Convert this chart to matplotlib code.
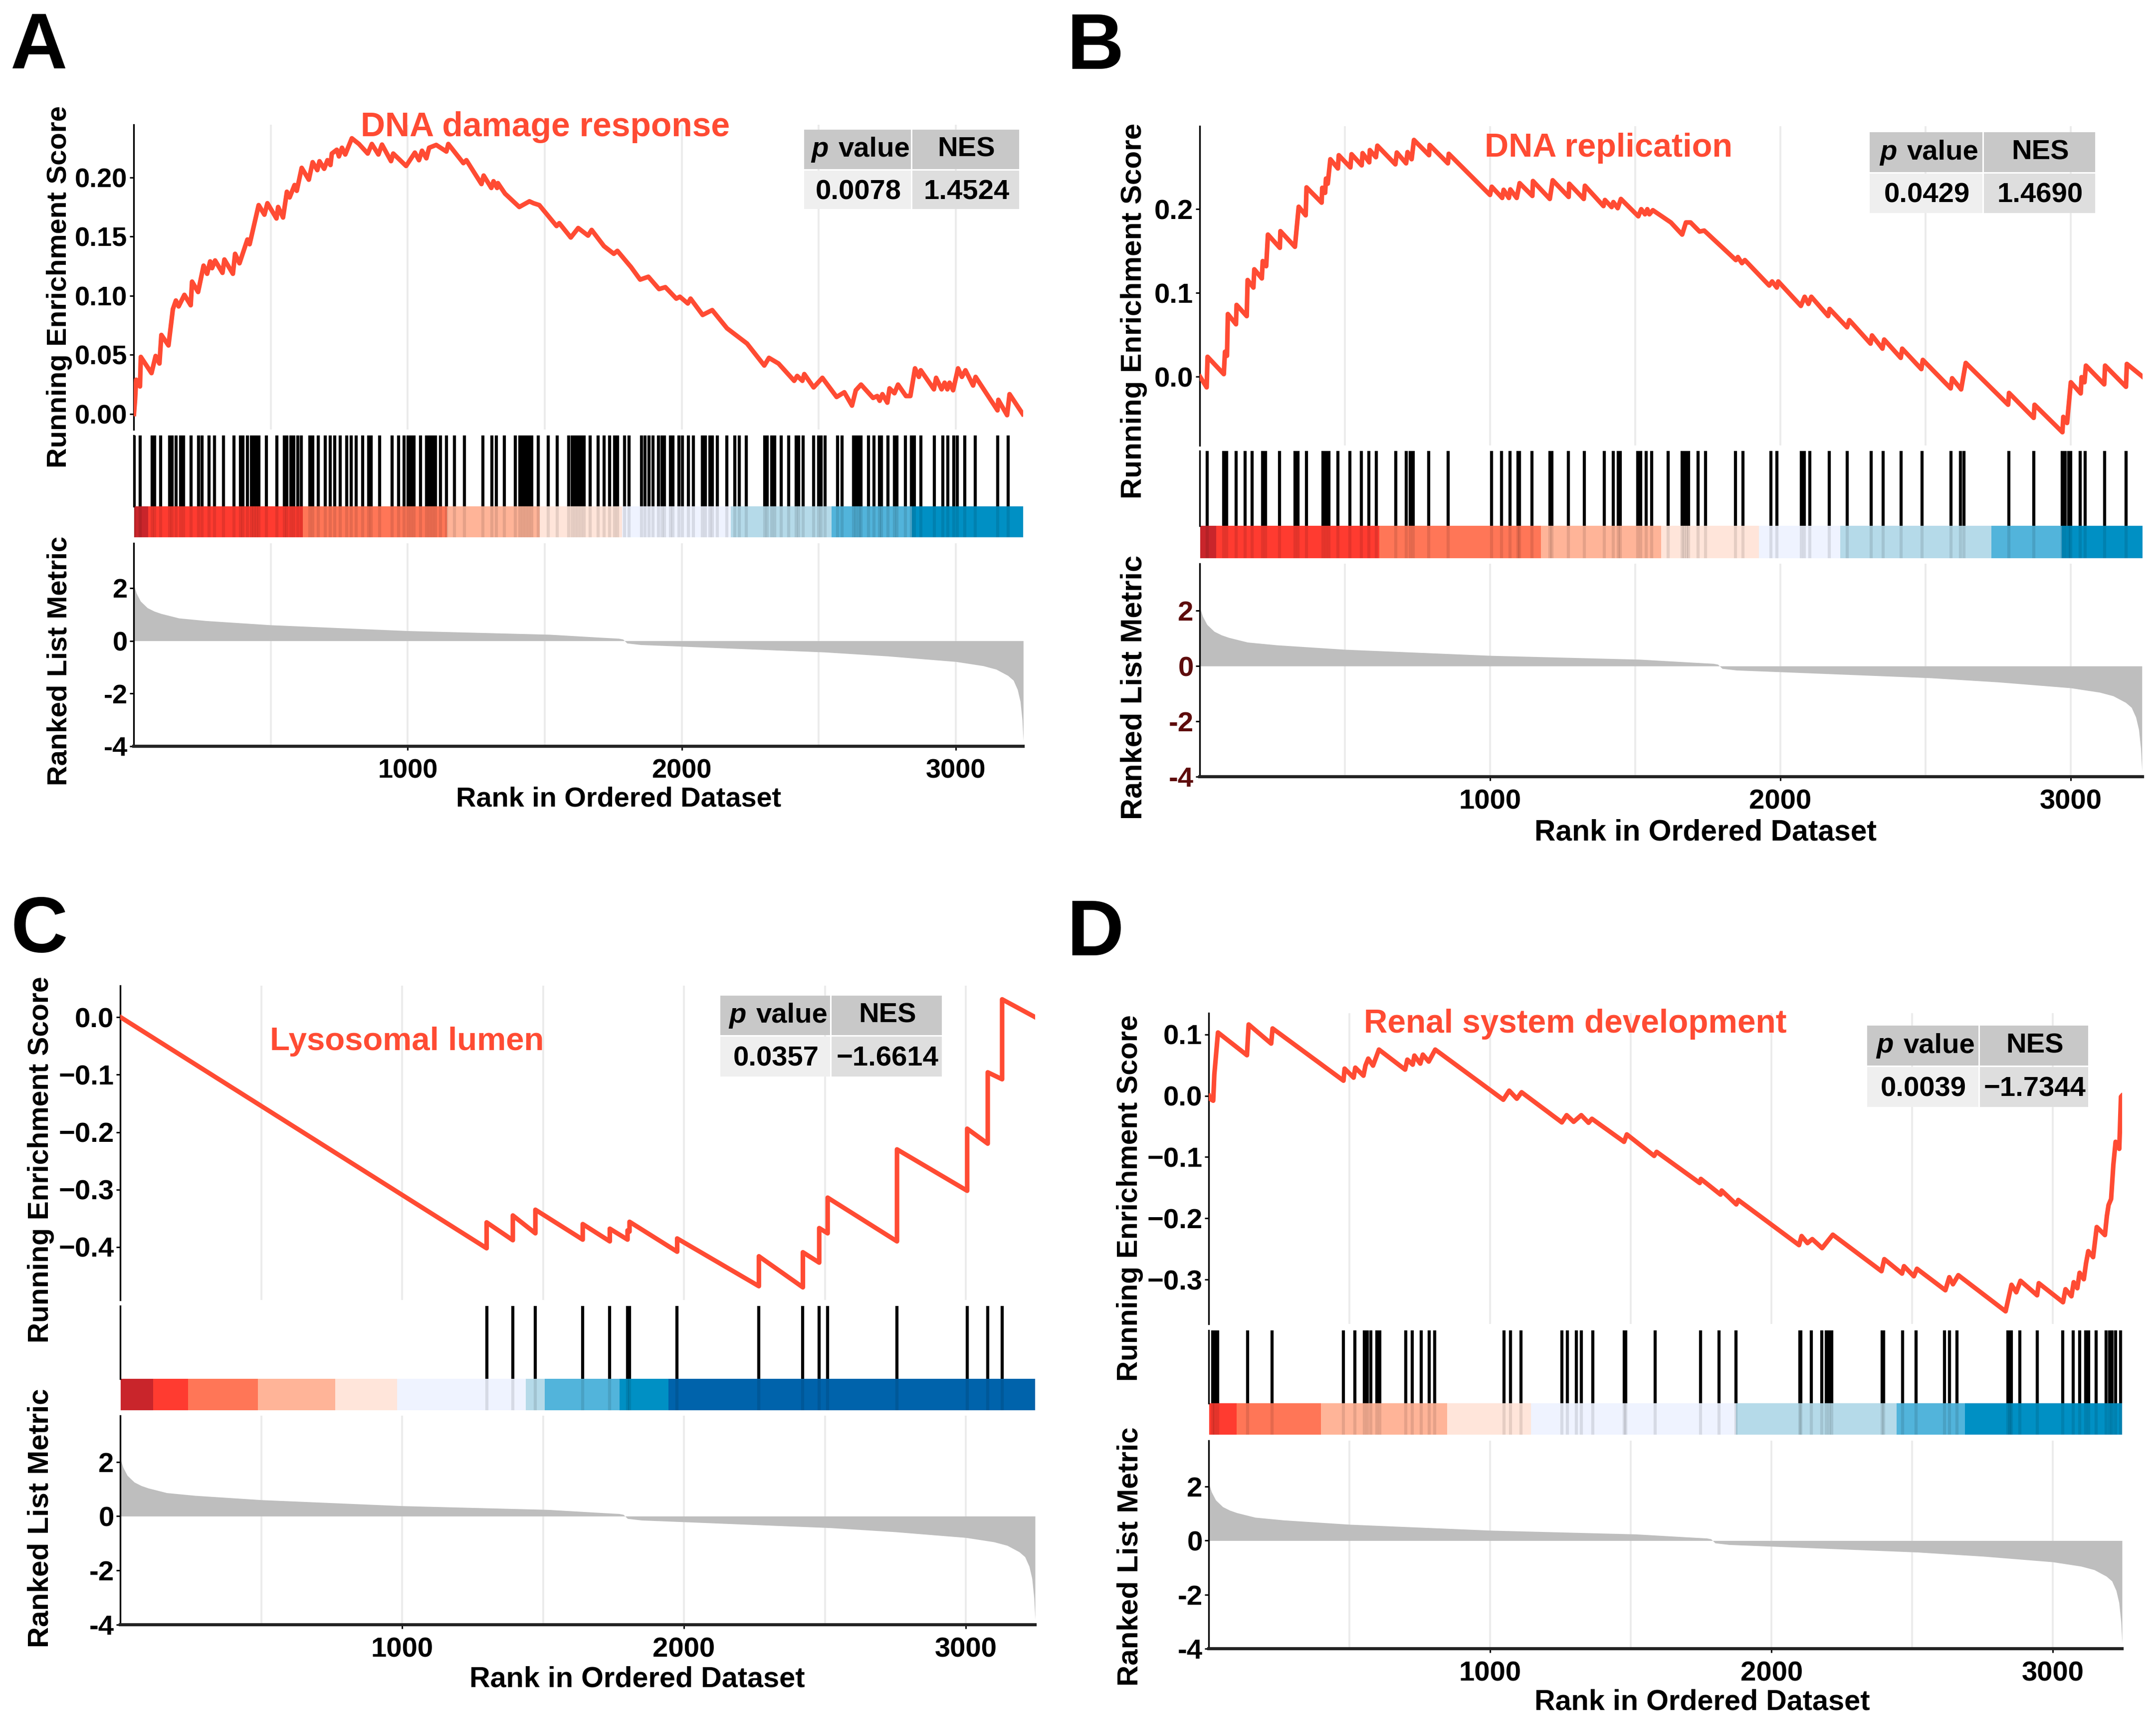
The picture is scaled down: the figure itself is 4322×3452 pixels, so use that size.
import matplotlib
matplotlib.use("Agg")
import matplotlib.pyplot as plt
from matplotlib.patches import Rectangle

plt.rcParams['font.family'] = ['Liberation Sans', 'DejaVu Sans']
plt.rcParams['font.weight'] = 'bold'

W, H = 4322, 3452

# ranked list metric, same gene list in all four panels
rm_rank = [1, 10, 25, 50, 75, 100, 165, 265, 500, 1000, 1518, 1700, 1770,
           1785, 1800, 1850, 2020, 2521, 2750, 3000, 3100, 3147, 3190, 3210, 3225, 3235, 3242, 3246]
rm_val = [2.1, 1.8, 1.5, 1.25, 1.12, 1.03, 0.86, 0.76, 0.6, 0.38, 0.24, 0.13, 0.09,
          0.06, -0.09, -0.15, -0.22, -0.43, -0.58, -0.79, -0.95, -1.08, -1.32, -1.5, -1.85, -2.3, -3.0, -3.8]

# running enrichment score, panel A
es_a_rank = [1, 5, 9, 23, 26, 65, 80, 94, 101, 127, 143, 154, 164, 185, 208, 213, 235, 255, 268, 279, 286, 297, 324,
             331, 362, 370, 386, 415, 423, 456, 477, 488, 521, 527, 545, 559, 569, 587, 595, 613, 639, 653, 670, 678,
             695, 707, 718, 723, 741, 749, 760, 772, 796, 822, 854, 869, 893, 906, 939, 947, 994, 1026, 1041, 1052,
             1068, 1078, 1104, 1141, 1148, 1203, 1214, 1269, 1277, 1305, 1313, 1326, 1329, 1355, 1407, 1444, 1459,
             1480, 1543, 1553, 1595, 1622, 1658, 1671, 1716, 1752, 1765, 1815, 1848, 1878, 1917, 1940, 1980, 1993,
             2022, 2032, 2076, 2111, 2165, 2238, 2301, 2318, 2353, 2410, 2421, 2440, 2447, 2481, 2513, 2565, 2593,
             2621, 2635, 2654, 2698, 2713, 2722, 2732, 2750, 2758, 2776, 2789, 2818, 2834, 2851, 2865, 2872, 2920,
             2928, 2948, 2959, 2969, 2977, 2990, 3008, 3022, 3035, 3063, 3072, 3152, 3155, 3187, 3196, 3244]
es_a_val = [0.0, 0.012, 0.029, 0.0233, 0.0483, 0.0346, 0.0491, 0.0427, 0.0669, 0.058, 0.0887, 0.096, 0.091, 0.1008,
            0.092, 0.112, 0.1032, 0.1255, 0.1186, 0.1291, 0.1234, 0.1299, 0.1194, 0.1307, 0.1186, 0.1355, 0.1275,
            0.1476, 0.1436, 0.1767, 0.1686, 0.1783, 0.1654, 0.1751, 0.1662, 0.188, 0.1832, 0.1937, 0.1888, 0.2082,
            0.1982, 0.213, 0.2063, 0.2138, 0.2074, 0.2147, 0.2106, 0.2203, 0.2235, 0.2179, 0.2252, 0.2195, 0.2332,
            0.2284, 0.2203, 0.2284, 0.2195, 0.2279, 0.2139, 0.2203, 0.2098, 0.2211, 0.2147, 0.2227, 0.2163, 0.2252,
            0.2276, 0.222, 0.2284, 0.2122, 0.2147, 0.1945, 0.2017, 0.1912, 0.1969, 0.1912, 0.1953, 0.1864, 0.1751,
            0.1799, 0.1783, 0.1767, 0.159, 0.1614, 0.1493, 0.1573, 0.1509, 0.1557, 0.142, 0.1355, 0.138, 0.1242,
            0.1137, 0.1161, 0.1057, 0.1073, 0.0976, 0.0992, 0.0935, 0.0976, 0.0838, 0.0879, 0.0725, 0.0596, 0.041,
            0.0475, 0.0427, 0.0281, 0.0322, 0.0281, 0.0338, 0.0225, 0.0306, 0.0144, 0.0184, 0.0071, 0.0201, 0.0249,
            0.0136, 0.0152, 0.0112, 0.0168, 0.0096, 0.0217, 0.0176, 0.0249, 0.0152, 0.0152, 0.0386, 0.0314, 0.037,
            0.0209, 0.0306, 0.0209, 0.0265, 0.0209, 0.0265, 0.0201, 0.0386, 0.0314, 0.037, 0.0241, 0.0314, 0.0031,
            0.012, -0.001, 0.0168, 0.0]

# panel B
es_b_rank = [1, 24, 27, 83, 87, 94, 97, 125, 127, 162, 165, 185, 188, 214, 217, 229, 235, 276, 278, 328, 341, 365, 368,
             420, 422, 432, 435, 441, 450, 476, 479, 519, 523, 558, 561, 584, 586, 607, 612, 674, 679, 711, 716, 730,
             738, 790, 792, 855, 858, 1000, 1006, 1042, 1047, 1065, 1070, 1092, 1102, 1146, 1148, 1206, 1216, 1271,
             1273, 1323, 1327, 1391, 1396, 1419, 1425, 1440, 1451, 1511, 1521, 1534, 1542, 1549, 1561, 1623, 1662,
             1675, 1691, 1722, 1738, 1847, 1854, 1868, 1878, 1962, 1972, 1988, 1993, 2071, 2084, 2097, 2107, 2165,
             2170, 2230, 2238, 2311, 2316, 2352, 2358, 2415, 2420, 2486, 2491, 2587, 2592, 2623, 2639, 2785, 2788,
             2873, 2876, 2972, 2975, 2988, 3001, 3035, 3038, 3048, 3053, 3116, 3119, 3191, 3194, 3248]
es_b_val = [0.0, -0.0128, 0.0237, 0.003, 0.0297, 0.0249, 0.0747, 0.0625, 0.0856, 0.0722, 0.1153, 0.1063, 0.1281, 0.1172,
            0.1379, 0.1318, 0.1695, 0.1537, 0.1736, 0.1549, 0.2027, 0.1925, 0.2258, 0.2076, 0.2253, 0.2193, 0.2363,
            0.2302, 0.2594, 0.2484, 0.2642, 0.2496, 0.2654, 0.2521, 0.2667, 0.2557, 0.2703, 0.2618, 0.2756, 0.2533,
            0.2674, 0.2545, 0.2679, 0.2594, 0.2824, 0.2642, 0.2764, 0.2545, 0.2659, 0.2168, 0.2266, 0.2132, 0.2229,
            0.2132, 0.2234, 0.2132, 0.2309, 0.2156, 0.2334, 0.212, 0.2343, 0.2144, 0.2302, 0.212, 0.2278, 0.2035,
            0.2108, 0.2023, 0.2083, 0.201, 0.212, 0.1913, 0.1998, 0.1937, 0.1998, 0.1937, 0.1986, 0.184, 0.1695, 0.184,
            0.184, 0.1731, 0.1743, 0.1391, 0.1427, 0.1354, 0.1391, 0.1087, 0.1136, 0.1063, 0.1136, 0.0844, 0.0953,
            0.0868, 0.0953, 0.0723, 0.0808, 0.0589, 0.0674, 0.0394, 0.0492, 0.0334, 0.0443, 0.0224, 0.0334, 0.009,
            0.02, -0.014, -0.0019, -0.0152, 0.0164, -0.0335, -0.0194, -0.0492, -0.0335, -0.0663, -0.048, -0.0553,
            -0.0067, -0.02, -0.0006, -0.0067, 0.0132, -0.0092, 0.0132, -0.0121, 0.0152, 0.0]

# panel C
es_c_rank = [1, 1300, 1300, 1393, 1393, 1473, 1473, 1641, 1641, 1737, 1737, 1800, 1800, 1807, 1807, 1976, 1976, 2266,
             2266, 2422, 2422, 2480, 2480, 2510, 2510, 2756, 2756, 2756, 3005, 3005, 3078, 3078, 3129, 3129, 3246]
es_c_val = [0.0, -0.402, -0.357, -0.388, -0.345, -0.376, -0.335, -0.387, -0.36, -0.39, -0.368, -0.387, -0.371, -0.373,
            -0.356, -0.408, -0.385, -0.468, -0.416, -0.47, -0.409, -0.427, -0.367, -0.376, -0.314, -0.39, -0.31, -0.23,
            -0.302, -0.194, -0.22, -0.096, -0.108, 0.031, 0.0]

# panel D
es_d_rank = [1, 4, 16, 20, 33, 136, 142, 222, 227, 479, 483, 515, 521, 550, 557, 567, 584, 605, 698, 706, 725, 731, 752,
             761, 782, 805, 1047, 1068, 1095, 1112, 1255, 1272, 1297, 1324, 1350, 1362, 1476, 1486, 1583, 1592, 1745,
             1749, 1819, 1823, 1875, 1882, 2098, 2107, 2128, 2145, 2180, 2218, 2391, 2401, 2464, 2471, 2506, 2517,
             2618, 2632, 2645, 2664, 2832, 2853, 2870, 2885, 2944, 2950, 3036, 3045, 3066, 3074, 3087, 3095, 3110,
             3118, 3126, 3143, 3156, 3185, 3192, 3198, 3207, 3215, 3223, 3236, 3242, 3245]
es_d_val = [0.0, -0.0047, -0.008, 0.0346, 0.1034, 0.0663, 0.1165, 0.0853, 0.11, 0.0247, 0.0444, 0.0297, 0.046, 0.0329,
            0.0493, 0.0608, 0.0493, 0.0755, 0.0428, 0.0591, 0.0509, 0.0657, 0.0526, 0.0673, 0.0559, 0.0755, -0.0064,
            0.0084, -0.0047, 0.0058, -0.0434, -0.0316, -0.0424, -0.0316, -0.044, -0.0375, -0.0751, -0.063, -0.0981,
            -0.0915, -0.1423, -0.1357, -0.1613, -0.1547, -0.1773, -0.1701, -0.2438, -0.229, -0.2405, -0.234, -0.2487,
            -0.2268, -0.2864, -0.2667, -0.2903, -0.2782, -0.2946, -0.2824, -0.3175, -0.2962, -0.3077, -0.2929, -0.3519,
            -0.3086, -0.3208, -0.3021, -0.3257, -0.306, -0.3371, -0.3158, -0.3273, -0.3044, -0.3142, -0.289, -0.2995,
            -0.2733, -0.2536, -0.2634, -0.2143, -0.2274, -0.1963, -0.1783, -0.1685, -0.1128, -0.0751, -0.0866, -0.0015,
            0.0]

# gene hit positions (rug)
hits_a = [2, 23, 68, 76, 98, 131, 140, 155, 171, 182, 210, 237, 250, 275, 295, 328, 366, 390, 399, 415, 429, 438, 447,
          456, 484, 522, 549, 558, 574, 585, 598, 612, 642, 653, 674, 699, 718, 734, 754, 777, 793, 811, 836, 857, 867,
          897, 942, 966, 986, 1002, 1012, 1023, 1046, 1069, 1079, 1090, 1102, 1119, 1141, 1171, 1206, 1274, 1307, 1324,
          1353, 1392, 1409, 1420, 1430, 1441, 1453, 1477, 1512, 1546, 1587, 1600, 1611, 1622, 1632, 1643, 1666, 1694,
          1717, 1737, 1755, 1766, 1791, 1807, 1853, 1865, 1880, 1895, 1915, 1927, 1937, 1958, 1967, 1990, 2003, 2025,
          2043, 2075, 2086, 2102, 2111, 2129, 2165, 2194, 2210, 2236, 2303, 2312, 2329, 2339, 2362, 2390, 2417, 2426,
          2443, 2481, 2500, 2509, 2523, 2569, 2585, 2626, 2636, 2647, 2654, 2682, 2702, 2722, 2729, 2753, 2775, 2785,
          2816, 2837, 2849, 2872, 2922, 2953, 2970, 2992, 3006, 3033, 3070, 3153, 3191]
hits_b = [26, 83, 92, 126, 156, 180, 216, 227, 275, 329, 339, 367, 424, 434, 445, 476, 517, 557, 583, 609, 675, 711, 725,
          735, 789, 855, 1005, 1040, 1069, 1097, 1102, 1145, 1206, 1213, 1270, 1325, 1393, 1424, 1441, 1448, 1509, 1519,
          1538, 1557, 1614, 1661, 1668, 1678, 1685, 1716, 1742, 1846, 1872, 1967, 1988, 2073, 2083, 2102, 2168, 2230,
          2313, 2355, 2417, 2488, 2588, 2621, 2633, 2787, 2874, 2972, 2981, 2993, 3000, 3033, 3050, 3118, 3192]
hits_c = [1300, 1393, 1473, 1641, 1737, 1800, 1807, 1976, 2266, 2422, 2480, 2510, 2756, 3005, 3078, 3129]
hits_d = [15, 22, 32, 139, 225, 479, 520, 554, 564, 576, 598, 608, 701, 723, 755, 784, 803, 1050, 1072, 1109, 1255, 1275,
          1306, 1324, 1365, 1477, 1482, 1587, 1748, 1814, 1873, 2100, 2105, 2142, 2178, 2195, 2205, 2215, 2393, 2398,
          2466, 2513, 2615, 2633, 2659, 2840, 2847, 2852, 2882, 2945, 3035, 3072, 3096, 3116, 3128, 3153, 3189, 3201,
          3211, 3223, 3240]

# colour bar segment edges (rank) and colours
dark_red, red, orange, salmon, pink = '#C9252B', '#FF3B30', '#FF7657', '#FFB498', '#FFE5DA'
pale, light, mid, blue, dark_blue = '#EFF3FF', '#B5DAE9', '#52B4DB', '#0090C4', '#0063AB'
seg_a = [1, 53, 617, 1143, 1481, 1782, 2178, 2546, 2840, 3246]
seg_a_col = [dark_red, red, orange, salmon, pink, pale, light, mid, blue]
seg_b = [1, 57, 618, 1175, 1590, 1927, 2206, 2727, 2969, 3249]
seg_b_col = [dark_red, red, orange, salmon, pink, pale, light, mid, blue]
seg_c = [1, 117, 241, 488, 763, 983, 1439, 1507, 1771, 1946, 3246]
seg_c_col = [dark_red, red, orange, salmon, pink, pale, light, mid, blue, dark_blue]
seg_d = [1, 100, 398, 847, 1145, 1873, 2444, 2688, 3246]
seg_d_col = [red, orange, salmon, pink, pale, light, mid, blue]

# layout in image pixels, font sizes differ a bit because the panels were scaled separately
panels = [
    dict(letter='A', lxy=(20, 137), left=268, right=2051, xmax=3245.5, es=(250, 861), es_lim=(-0.0131, 0.2447),
         es_ticks=[0, 0.05, 0.1, 0.15, 0.2], es_labels=['0.00', '0.05', '0.10', '0.15', '0.20'],
         rug=(873, 1015, 1077), rm=(1089, 1496), rank=es_a_rank, val=es_a_val, hits=hits_a, seg=seg_a, col=seg_a_col,
         title='DNA damage response', txy=(1093, 255), tfs=16.3, pv='0.0078', nes='1.4524',
         tab=(1612, 1829, 2046, 257, 339, 419), yl=(119, 575, 1325), yfs=(13.5, 13.5), xl=(1240, 1603), xfs=13.45,
         tick=13, rmcol='black'),
    dict(letter='B', lxy=(2138, 138), left=2405, right=4295, xmax=3248, es=(253, 893), es_lim=(-0.0821, 0.2988),
         es_ticks=[0, 0.1, 0.2], es_labels=['0.0', '0.1', '0.2'],
         rug=(904, 1054, 1119), rm=(1130, 1557), rank=es_b_rank, val=es_b_val, hits=hits_b, seg=seg_b, col=seg_b_col,
         title='DNA replication', txy=(3224, 297), tfs=16, pv='0.0429', nes='1.4690',
         tab=(3748, 3977, 4203, 262, 345, 427), yl=(2273, 623, 1378), yfs=(14, 14.3), xl=(3419, 1669), xfs=14.1,
         tick=13.5, rmcol='#5E0C0C'),
    dict(letter='C', lxy=(22, 1908), left=241, right=2075, xmax=3246, es=(1976, 2606), es_lim=(-0.492, 0.0547),
         es_ticks=[-0.4, -0.3, -0.2, -0.1, 0], es_labels=['\u22120.4', '\u22120.3', '\u22120.2', '\u22120.1', '0.0'],
         rug=(2618, 2764, 2827), rm=(2838, 3257), rank=es_c_rank, val=es_c_val, hits=hits_c, seg=seg_c, col=seg_c_col,
         title='Lysosomal lumen', txy=(816, 2088), tfs=15.7, pv='0.0357', nes='\u22121.6614',
         tab=(1444, 1667, 1891, 1993, 2075, 2158), yl=(82, 2325, 3043), yfs=(13.7, 14), xl=(1277, 3366), xfs=13.85,
         tick=13.5, rmcol='black'),
    dict(letter='D', lxy=(2138, 1915), left=2423, right=4254, xmax=3246, es=(2031, 2654), es_lim=(-0.3725, 0.135),
         es_ticks=[-0.3, -0.2, -0.1, 0, 0.1], es_labels=['\u22120.3', '\u22120.2', '\u22120.1', '0.0', '0.1'],
         rug=(2667, 2813, 2876), rm=(2888, 3305), rank=es_d_rank, val=es_d_val, hits=hits_d, seg=seg_d, col=seg_d_col,
         title='Renal system development', txy=(3158, 2053), tfs=15.75, pv='0.0039', nes='\u22121.7344',
         tab=(3743, 3969, 4189, 2053, 2136, 2219), yl=(2265, 2402, 3120), yfs=(13.7, 14), xl=(3412, 3412), xfs=13.85,
         tick=13.5, rmcol='black'),
]

LINE_RED = '#FF4B33'
GRID = '#EBEBEB'


def px_axes(fig, left, right, top, bottom):
    return fig.add_axes([left / W, 1 - bottom / H, (right - left) / W, (bottom - top) / H])


def fig_text(fig, x, y, s, **kw):
    fig.text(x / W, 1 - y / H, s, **kw)


fig = plt.figure(figsize=(W / 300, H / 300), dpi=300)

for p in panels:
    # enrichment score
    ax = px_axes(fig, p['left'], p['right'], p['es'][0], p['es'][1])
    ax.plot(p['rank'], p['val'], color=LINE_RED, lw=2.2, zorder=3)
    ax.set_xlim(0, p['xmax'])
    ax.set_ylim(*p['es_lim'])
    ax.set_xticks([500, 1000, 1500, 2000, 2500, 3000])
    ax.tick_params(axis='x', length=0, labelbottom=False)
    ax.set_yticks(p['es_ticks'])
    ax.set_yticklabels(p['es_labels'], fontsize=p['tick'])
    ax.tick_params(axis='y', length=2, width=0.7, pad=1)
    ax.grid(axis='x', color=GRID, lw=0.9)
    ax.set_axisbelow(True)
    for s in ['top', 'right', 'bottom']:
        ax.spines[s].set_visible(False)
    ax.spines['left'].set_linewidth(0.8)

    # rug and colour bar
    top, bar_top, bottom = p['rug']
    ax = px_axes(fig, p['left'], p['right'], top, bottom)
    ax.set_xlim(0, p['xmax'])
    ax.set_ylim(0, 1)
    frac = (bottom - bar_top) / (bottom - top)
    ax.vlines(p['hits'], frac, 1, color='black', lw=1.5, zorder=1)
    for i, c in enumerate(p['col']):
        ax.axvspan(p['seg'][i], p['seg'][i + 1], 0, frac, color=c, lw=0, zorder=2)
    ax.vlines(p['hits'], 0, frac, color='black', lw=1.5, alpha=0.1, zorder=3)
    ax.set_xticks([])
    ax.set_yticks([])
    for s in ['top', 'right', 'bottom']:
        ax.spines[s].set_visible(False)
    ax.spines['left'].set_linewidth(0.8)
    ax.spines['left'].set_bounds(frac, 1)

    # ranked list metric
    ax = px_axes(fig, p['left'], p['right'], p['rm'][0], p['rm'][1])
    ax.fill_between(rm_rank, rm_val, 0, color='#BEBEBE', lw=0, zorder=2)
    ax.set_xlim(0, p['xmax'])
    ax.set_ylim(-4.0, 3.7)
    ax.set_xticks([1000, 2000, 3000])
    ax.set_xticks([500, 1500, 2500], minor=True)
    ax.tick_params(axis='x', which='major', length=2, width=0.7, labelsize=p['tick'], pad=4)
    ax.tick_params(axis='x', which='minor', length=0)
    ax.set_yticks([-4, -2, 0, 2])
    ax.set_yticklabels(['-4', '-2', '0', '2'], fontsize=p['tick'], color=p['rmcol'])
    ax.tick_params(axis='y', length=2, width=0.7, pad=1)
    ax.grid(axis='x', which='both', color=GRID, lw=0.9)
    ax.set_axisbelow(True)
    for s in ['top', 'right']:
        ax.spines[s].set_visible(False)
    ax.spines['left'].set_linewidth(0.8)
    ax.spines['bottom'].set_linewidth(1.5)
    ax.spines['bottom'].set_color('#222222')

    # labels
    fig_text(fig, p['lxy'][0], p['lxy'][1], p['letter'], fontsize=38, ha='left', va='baseline')
    fig_text(fig, p['txy'][0], p['txy'][1], p['title'], fontsize=p['tfs'], color=LINE_RED, ha='center', va='center')
    fig_text(fig, p['yl'][0], p['yl'][1], 'Running Enrichment Score', fontsize=p['yfs'][0], rotation=90,
             ha='center', va='center')
    fig_text(fig, p['yl'][0], p['yl'][2], 'Ranked List Metric', fontsize=p['yfs'][1], rotation=90,
             ha='center', va='center')
    fig_text(fig, p['xl'][0], p['xl'][1], 'Rank in Ordered Dataset', fontsize=p['xfs'], ha='center', va='center')

    # p value / NES box
    x0, x1, x2, y0, y1, y2 = p['tab']
    cells = [(x0, y0, x1, y1, '#C8C8C8'), (x1, y0, x2, y1, '#C8C8C8'),
             (x0, y1, x1, y2, '#EFEFEF'), (x1, y1, x2, y2, '#DEDEDE')]
    for a, b, c, d, col in cells:
        fig.add_artist(Rectangle((a / W, 1 - d / H), (c - a - 3) / W, (d - b - 3) / H, transform=fig.transFigure,
                                 facecolor=col, edgecolor='none'))
    mid0, mid1 = (x0 + x1) / 2, (x1 + x2) / 2
    ym0, ym1 = (y0 + y1) / 2 - 4, (y1 + y2) / 2
    fig_text(fig, mid0 - 60, ym0, 'p', fontsize=13.5, style='italic', ha='right', va='center_baseline')
    fig_text(fig, mid0 - 40, ym0, 'value', fontsize=13.5, ha='left', va='center_baseline')
    fig_text(fig, mid1, ym0, 'NES', fontsize=13.5, ha='center', va='center_baseline')
    fig_text(fig, mid0, ym1, p['pv'], fontsize=13.5, ha='center', va='center_baseline')
    fig_text(fig, mid1, ym1, p['nes'], fontsize=13.5, ha='center', va='center_baseline')

fig.savefig('out.png', dpi=300, facecolor='white')
